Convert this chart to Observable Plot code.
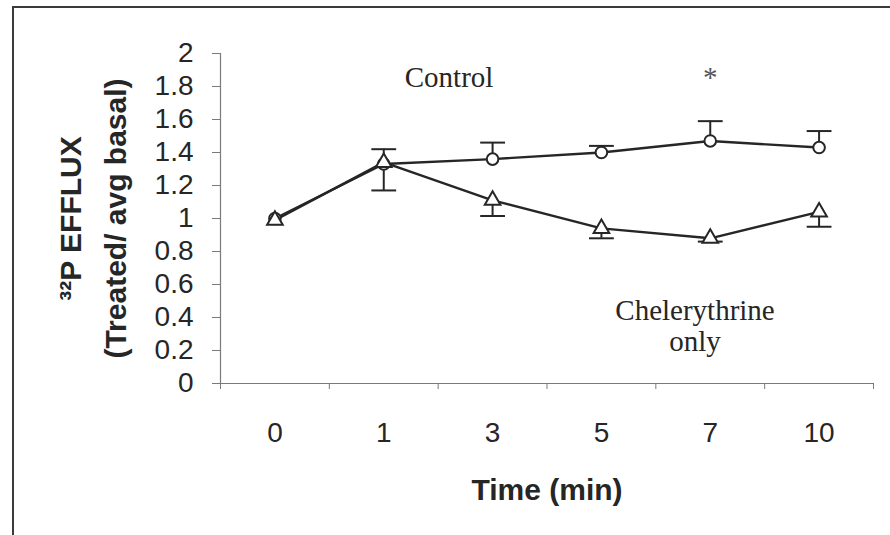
<!DOCTYPE html>
<html>
<head>
<meta charset="utf-8">
<script src="https://cdn.jsdelivr.net/npm/d3@7"></script>
<script src="https://cdn.jsdelivr.net/npm/@observablehq/plot@0.6"></script>
<style>
  html, body { margin: 0; padding: 0; background: #fff; }
  #wrap { position: relative; width: 890px; height: 535px; overflow: hidden; }
  #border { position: absolute; left: 12px; top: 6px; right: -10px; bottom: -10px;
            border-top: 2px solid #3a3a3a; border-left: 2px solid #3a3a3a; pointer-events: none; }
</style>
</head>
<body>
<div id="wrap"><div id="border"></div></div>
<script>
// Categories (time points, min) — plotted at equal spacing
const times = ["0", "1", "3", "5", "7", "10"];

// Control series (circles) with upper error bars
const controlMean = [1.00, 1.33, 1.36, 1.40, 1.47, 1.43];
const controlErr  = [0.00, 0.09, 0.10, 0.04, 0.12, 0.10];

// Chelerythrine only series (triangles) with lower error bars
const chelMean = [0.99, 1.34, 1.11, 0.94, 0.88, 1.04];
const chelErr  = [0.00, 0.17, 0.095, 0.06, 0.02, 0.09];

// Axis ticks
const yTicks = [0, 0.2, 0.4, 0.6, 0.8, 1, 1.2, 1.4, 1.6, 1.8, 2];
const yTickLabels = ["0", "0.2", "0.4", "0.6", "0.8", "1", "1.2", "1.4", "1.6", "1.8", "2"];

// Texts
const yTitle = "³²P EFFLUX\n(Treated/ avg basal)";
const xTitle = "Time (min)";
const controlLabel = "Control";
const starLabel = "*";
const chelLabel = "Chelerythrine\nonly";

const control = times.map((t, i) => ({i, y: controlMean[i], lo: controlMean[i], hi: controlMean[i] + controlErr[i]}));
const chel = times.map((t, i) => ({i, y: chelMean[i], lo: chelMean[i] - chelErr[i], hi: chelMean[i]}));
const errC = control.filter(d => controlErr[d.i] > 0);
const errT = chel.filter(d => chelErr[d.i] > 0);

// horizontal cap symbol for error bars
const capSymbol = {
  draw(context, size) {
    const w = Math.sqrt(size);
    context.moveTo(-w, 0);
    context.lineTo(w, 0);
  }
};

const xDomain = [-0.5, times.length - 0.5];
const bandEdges = d3.range(times.length + 1).map(k => k - 0.5);
const ink = "#262626";
const axisGray = "#7a7a7a";
const sans = "'Liberation Sans', Arial, sans-serif";
const serif = "'Liberation Serif', 'Times New Roman', serif";

const chart = Plot.plot({
  width: 890,
  height: 535,
  marginLeft: 220,
  marginRight: 17,
  marginTop: 53,
  marginBottom: 152,
  style: {fontFamily: sans, background: "transparent", color: ink},
  x: {type: "linear", domain: xDomain},
  y: {domain: [0, 2]},
  marks: [
    // axis lines and ticks
    Plot.ruleY([0], {stroke: axisGray, strokeWidth: 1.2}),
    Plot.ruleX([xDomain[0]], {y1: 0, y2: 2, stroke: axisGray, strokeWidth: 1.2}),
    Plot.axisY({ticks: yTicks, tickFormat: () => "", tickSize: 8, stroke: axisGray, label: null}),
    Plot.axisX({ticks: bandEdges, tickFormat: () => "", tickSize: 6, stroke: axisGray, label: null}),
    // tick labels
    Plot.text(yTicks, {x: xDomain[0], y: d => d, text: (d, i) => yTickLabels[i], textAnchor: "end",
                       lineAnchor: "middle", dx: -27, fontSize: 28, fontFamily: sans, fill: ink}),
    Plot.text(times, {x: (d, i) => i, y: 0, text: d => d, textAnchor: "middle",
                      lineAnchor: "top", dy: 39, fontSize: 28, fontFamily: sans, fill: ink}),
    // lines
    Plot.line(chel, {x: "i", y: "y", stroke: ink, strokeWidth: 2.4}),
    Plot.line(control, {x: "i", y: "y", stroke: ink, strokeWidth: 2.4}),
    // error bars
    Plot.ruleX(errC, {x: "i", y1: "lo", y2: "hi", stroke: ink, strokeWidth: 2}),
    Plot.dot(errC, {x: "i", y: "hi", symbol: capSymbol, r: 7, stroke: ink, strokeWidth: 2, fill: "none"}),
    Plot.ruleX(errT, {x: "i", y1: "lo", y2: "hi", stroke: ink, strokeWidth: 2}),
    Plot.dot(errT, {x: "i", y: "lo", symbol: capSymbol, r: 7, stroke: ink, strokeWidth: 2, fill: "none"}),
    // markers
    Plot.dot(control, {x: "i", y: "y", symbol: "circle", r: 5.8, fill: "white", stroke: ink, strokeWidth: 2}),
    Plot.dot(chel, {x: "i", y: "y", symbol: "triangle", r: 5.8, fill: "white", stroke: ink, strokeWidth: 2}),
    // annotations
    Plot.text([controlLabel], {x: 1.6, y: 1.795, text: d => d, lineAnchor: "bottom", textAnchor: "middle",
               fontFamily: serif, fontSize: 29, fill: ink}),
    Plot.text([starLabel], {x: 4, y: 1.795, text: d => d, lineAnchor: "bottom", textAnchor: "middle",
               fontFamily: serif, fontSize: 29, fill: "#555"}),
    Plot.text([chelLabel], {x: 3.86, y: 0.195, text: d => d, lineAnchor: "bottom", textAnchor: "middle", lineHeight: 1.07,
               fontFamily: serif, fontSize: 29, fill: ink}),
    // axis titles
    Plot.text([yTitle], {frameAnchor: "left", text: d => d, rotate: -90, lineAnchor: "bottom", textAnchor: "middle",
               lineHeight: 1.5, dx: -95, fontSize: 30, fontWeight: "bold", fontFamily: sans, fill: ink}),
    Plot.text([xTitle], {frameAnchor: "bottom", text: d => d, lineAnchor: "bottom", textAnchor: "middle",
               dy: 116, fontSize: 30, fontWeight: "bold", fontFamily: sans, fill: ink})
  ]
});

document.getElementById("wrap").insertBefore(chart, document.getElementById("border"));
</script>
</body>
</html>
